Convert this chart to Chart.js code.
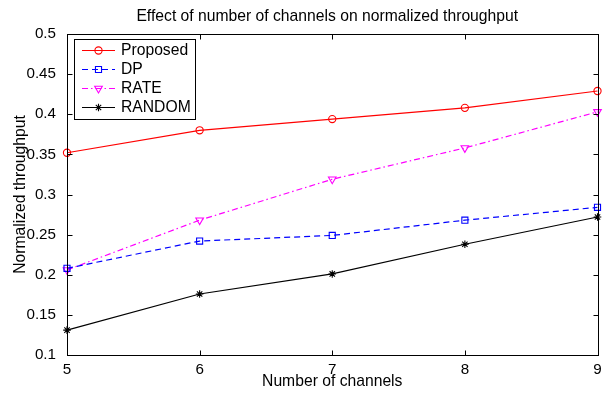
<!DOCTYPE html>
<html>
<head>
<meta charset="utf-8">
<script src="https://cdn.jsdelivr.net/npm/chart.js@4/dist/chart.umd.min.js"></script>
<style>
  html, body { margin: 0; padding: 0; background: #fff; }
  #wrap { width: 603px; height: 393px; }
</style>
</head>
<body>
<div id="wrap"><canvas id="c" width="603" height="393"></canvas></div>
<script>
// Number of channels on the x axis
const channels = [5, 6, 7, 8, 9];

// Normalized throughput per scheme
const proposed = [0.352, 0.380, 0.394, 0.408, 0.429];
const dp       = [0.208, 0.242, 0.249, 0.268, 0.284];
const rate     = [0.206, 0.268, 0.319, 0.358, 0.403];
const random   = [0.131, 0.176, 0.201, 0.238, 0.272];

const seriesNames = ['Proposed', 'DP', 'RATE', 'RANDOM'];
const chartTitle = 'Effect of number of channels on normalized throughput';
const xTitle = 'Number of channels';
const yTitle = 'Normalized throughput';

const FONT = '"Liberation Sans", Arial, Helvetica, sans-serif';
const TEXT_SIZE = 15.7;
const TICK_SIZE = 15.2;

const toPoints = vals => channels.map((c, i) => ({ x: c, y: vals[i] }));

const styles = [
  { color: '#ff0000', dash: [],             pointStyle: 'circle',   radius: 3.6, rotation: 0 },
  { color: '#0000ff', dash: [6, 4],         pointStyle: 'rect',     radius: 4.3, rotation: 0 },
  { color: '#ff00ff', dash: [6, 3, 1.5, 3], pointStyle: 'triangle', radius: 4.4, rotation: 180 },
  { color: '#000000', dash: [],             pointStyle: 'star',     radius: 3.8, rotation: 0 }
];

const values = [proposed, dp, rate, random];

const datasets = values.map((vals, i) => ({
  label: seriesNames[i],
  data: toPoints(vals),
  borderColor: styles[i].color,
  borderWidth: 1.2,
  borderDash: styles[i].dash,
  pointStyle: styles[i].pointStyle,
  pointRadius: styles[i].radius,
  pointRotation: styles[i].rotation,
  pointBorderColor: styles[i].color,
  pointBackgroundColor: 'rgba(0,0,0,0)',
  pointBorderWidth: 1.1,
  tension: 0,
  clip: false
}));

// Boxed axes with inward tick marks on all four sides, plus the title
const framePlugin = {
  id: 'frame',
  afterDraw(chart) {
    const { ctx, chartArea, scales } = chart;
    const L = Math.round(chartArea.left) + 0.5;
    const R = Math.round(chartArea.right) + 0.5;
    const T = Math.round(chartArea.top) + 0.5;
    const B = Math.round(chartArea.bottom) + 0.5;
    const tl = 5;
    ctx.save();
    ctx.strokeStyle = '#000';
    ctx.lineWidth = 1;
    ctx.setLineDash([]);
    ctx.beginPath();
    scales.x.ticks.forEach(t => {
      const px = Math.round(scales.x.getPixelForValue(t.value)) + 0.5;
      ctx.moveTo(px, B); ctx.lineTo(px, B - tl);
      ctx.moveTo(px, T); ctx.lineTo(px, T + tl);
    });
    scales.y.ticks.forEach(t => {
      const py = Math.round(scales.y.getPixelForValue(t.value)) + 0.5;
      ctx.moveTo(L, py); ctx.lineTo(L + tl, py);
      ctx.moveTo(R, py); ctx.lineTo(R - tl, py);
    });
    ctx.stroke();
    ctx.strokeRect(L, T, R - L, B - T);

    ctx.fillStyle = '#000';
    ctx.font = TEXT_SIZE + 'px ' + FONT;
    ctx.textAlign = 'center';
    ctx.textBaseline = 'alphabetic';
    ctx.fillText(chartTitle, (chartArea.left + chartArea.right) / 2 - 5, 21);
    ctx.restore();
  }
};

// Legend box in the upper-left corner of the plot, line sample with marker
const legendPlugin = {
  id: 'boxLegend',
  afterDatasetsDraw(chart) {
    const { ctx } = chart;
    const bx = 74.5, by = 39.5, bw = 121, bh = 80;
    ctx.save();
    ctx.fillStyle = '#fff';
    ctx.fillRect(bx, by, bw, bh);
    ctx.strokeStyle = '#000';
    ctx.lineWidth = 1;
    ctx.setLineDash([]);
    ctx.strokeRect(bx, by, bw, bh);
    ctx.font = TEXT_SIZE + 'px ' + FONT;
    ctx.textAlign = 'left';
    ctx.textBaseline = 'middle';
    chart.data.datasets.forEach((ds, i) => {
      const y = 50 + i * 19;
      ctx.save();
      ctx.strokeStyle = ds.borderColor;
      ctx.lineWidth = ds.borderWidth;
      ctx.setLineDash(ds.borderDash || []);
      ctx.beginPath();
      ctx.moveTo(82, y + 0.5);
      ctx.lineTo(115, y + 0.5);
      ctx.stroke();
      ctx.setLineDash([]);
      ctx.strokeStyle = ds.pointBorderColor;
      ctx.fillStyle = 'rgba(0,0,0,0)';
      ctx.lineWidth = ds.pointBorderWidth;
      Chart.helpers.drawPoint(ctx, {
        pointStyle: ds.pointStyle,
        radius: ds.pointRadius,
        rotation: ds.pointRotation,
        borderWidth: ds.pointBorderWidth
      }, 98.5, y + 0.5);
      ctx.restore();
      ctx.fillStyle = '#000';
      ctx.fillText(ds.label, 121, y + 0.5);
    });
    ctx.restore();
  }
};

const fmt = v => String(Number(Number(v).toFixed(2)));

new Chart(document.getElementById('c'), {
  type: 'line',
  data: { datasets },
  options: {
    responsive: false,
    devicePixelRatio: 1,
    animation: false,
    layout: { padding: { top: 34, right: 5, left: 0, bottom: 0 } },
    plugins: {
      legend: { display: false },
      title: { display: false },
      tooltip: { enabled: false }
    },
    scales: {
      x: {
        type: 'linear',
        min: 5, max: 9,
        afterFit: s => { s.height = 38; },
        grid: { display: false },
        border: { display: false },
        ticks: {
          stepSize: 1,
          color: '#000',
          padding: -2,
          font: { family: FONT, size: TICK_SIZE },
          callback: v => fmt(v)
        },
        title: {
          display: true, text: xTitle, color: '#000',
          font: { family: FONT, size: TEXT_SIZE },
          padding: { top: 0, bottom: 2 }
        }
      },
      y: {
        type: 'linear',
        min: 0.1, max: 0.5,
        afterFit: s => { s.width = 67; },
        grid: { display: false },
        border: { display: false },
        ticks: {
          stepSize: 0.05,
          color: '#000',
          padding: 3,
          font: { family: FONT, size: TICK_SIZE },
          callback: v => fmt(v)
        },
        title: {
          display: true, text: yTitle, color: '#000',
          font: { family: FONT, size: TEXT_SIZE },
          padding: { top: 11, bottom: 0 }
        }
      }
    }
  },
  plugins: [legendPlugin, framePlugin]
});
</script>
</body>
</html>
